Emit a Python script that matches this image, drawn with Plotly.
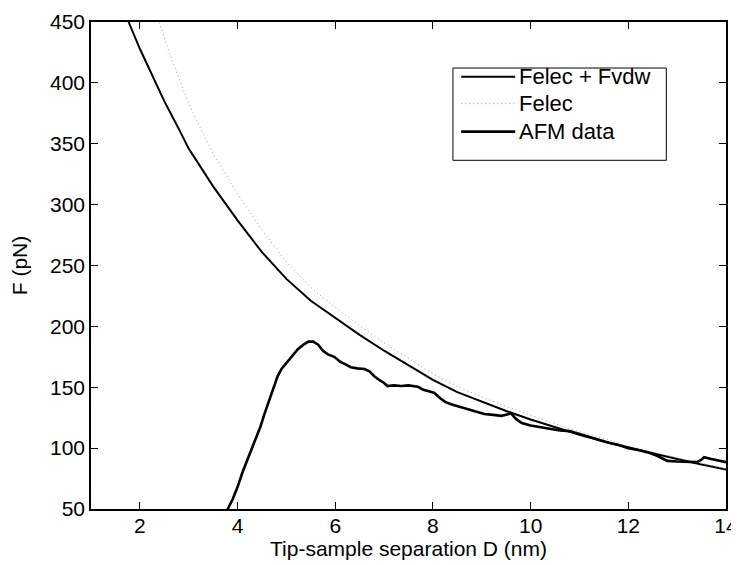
import plotly.graph_objects as go

# Felec + Fvdw (fit)
d_fit = [1.6, 1.77, 2.0, 2.2, 2.5, 2.8, 3.0, 3.5, 4.0, 4.5, 5.0, 5.5, 6.0, 6.5, 7.0,
         7.5, 8.0, 8.5, 9.0, 9.5, 10.0, 10.5, 11.0, 11.5, 12.0, 12.5, 13.0, 13.5, 14.0]
f_fit = [468, 450, 428, 411, 385, 362, 346, 315, 287, 261, 239, 221, 207, 193, 180,
         168, 156, 146, 138, 130.5, 123.5, 117, 111, 105.5, 100.5, 95.5, 91, 86.5, 82.5]

# Felec only
d_elec = [2.3, 2.4, 2.6, 2.8, 3.0, 3.2, 3.5, 4.0, 4.5, 5.0, 5.5, 6.0, 6.5, 7.0, 7.5,
          8.0, 8.5, 9.0, 9.5, 10.0, 10.5, 11.0, 11.5, 12.0, 12.5, 13.0, 13.5, 14.0]
f_elec = [462, 450, 425, 404, 383, 366, 342, 309, 279, 253, 232, 215.5, 200.5, 186.5, 173.8,
          161, 150.5, 142, 134.3, 127, 120, 113.5, 107.5, 102, 96.7, 92, 87.3, 83]

# AFM data
d_afm = [3.75, 3.8, 3.9, 4.0, 4.1, 4.2, 4.3, 4.4, 4.47, 4.55, 4.65, 4.75, 4.82, 4.9, 5.0,
         5.1, 5.23, 5.35, 5.45, 5.55, 5.65, 5.75, 5.85, 5.98, 6.1, 6.2, 6.32, 6.45, 6.6,
         6.7, 6.8, 6.9, 7.0, 7.07, 7.2, 7.35, 7.5, 7.69, 7.8, 7.9, 8.03, 8.15, 8.25, 8.37,
         8.5, 8.71, 8.9, 9.05, 9.19, 9.3, 9.4, 9.5, 9.6, 9.7, 9.82, 10.0, 10.2, 10.4, 10.6,
         10.8, 11.0, 11.2, 11.4, 11.6, 11.8, 12.0, 12.2, 12.4, 12.6, 12.8, 13.0, 13.2, 13.4,
         13.5, 13.55, 13.7, 13.85, 14.0]
f_afm = [44, 50, 58, 68, 80, 90.5, 100, 111, 117.8, 128, 140, 152, 159, 165, 170,
         175, 181, 185, 187.5, 187.5, 185, 180, 177, 175, 171, 169, 166.5, 165.5, 165,
         163, 159, 156, 153.5, 151, 151.5, 151, 151.5, 150.5, 148, 147, 145.3, 141, 138, 136,
         134.5, 131.6, 130, 128, 127.5, 127, 126.5, 127.5, 128.5, 124, 120.6, 118.5, 117, 116, 114.5,
         114, 111.5, 109, 106.5, 104.5, 102.5, 100, 98.5, 96.5, 93.5, 89.5, 89, 89, 88.5,
         90.5, 92.5, 91, 89.5, 88.5]

x_ticks = [2, 4, 6, 8, 10, 12, 14]
y_ticks = [50, 100, 150, 200, 250, 300, 350, 400, 450]

names = ['Felec + Fvdw', 'Felec', 'AFM data']
styles = [dict(color='black', width=2),
          dict(color='#999999', width=1, dash='1px,3px'),
          dict(color='black', width=2.6)]

fig = go.Figure()
fig.add_trace(go.Scatter(x=d_fit, y=f_fit, mode='lines', name=names[0], line=styles[0]))
fig.add_trace(go.Scatter(x=d_elec, y=f_elec, mode='lines', name=names[1], line=styles[1]))
fig.add_trace(go.Scatter(x=d_afm, y=f_afm, mode='lines', name=names[2], line=styles[2]))

# MATLAB-style legend box drawn by hand (paper coords)
fig.add_shape(type='rect', xref='paper', yref='paper', x0=0.570, x1=0.906, y0=0.716, y1=0.9055,
              line=dict(color='black', width=1), fillcolor='white', layer='above')
row_y = [0.8877, 0.8323, 0.7748]
for name, st, yy in zip(names, styles, row_y):
    fig.add_shape(type='line', xref='paper', yref='paper', x0=0.583, x1=0.668, y0=yy, y1=yy,
                  line=st, layer='above')
    fig.add_annotation(text=name, xref='paper', yref='paper', x=0.6713, y=yy,
                       xanchor='left', yanchor='middle', showarrow=False,
                       font=dict(size=22, color='black'))

axis_style = dict(showline=True, linecolor='black', linewidth=1.5, mirror='ticks',
                  ticks='inside', ticklen=7, tickwidth=1.2, tickcolor='black',
                  showgrid=False, zeroline=False, automargin=False,
                  tickfont=dict(size=21, color='black'))

fig.update_xaxes(range=[1, 14], tickvals=x_ticks, ticklabelstandoff=-3,
                 title=dict(text='Tip-sample separation D (nm)', font=dict(size=21, color='black'),
                            standoff=1),
                 **axis_style)
fig.update_yaxes(range=[50, 450], tickvals=y_ticks,
                 title=dict(text='F (pN)', font=dict(size=21, color='black'), standoff=27),
                 **axis_style)

# page body has an 8px margin, so the figure is 8px smaller than the window
fig.update_layout(
    width=731, height=557,
    margin=dict(l=82.7, r=13.3, t=14.3, b=55.7),
    paper_bgcolor='white', plot_bgcolor='white',
    font=dict(family='Liberation Sans, Arial, sans-serif', color='black'),
    showlegend=False,
)

fig.write_html("out.html")
